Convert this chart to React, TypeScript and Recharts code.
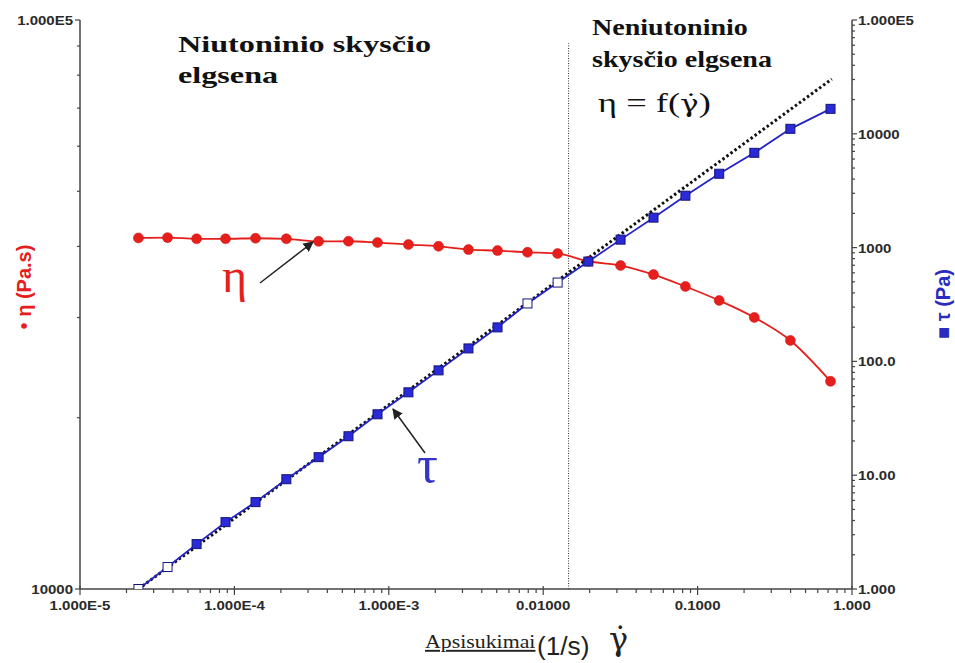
import React from "react";
import { LineChart, Line, XAxis, YAxis, ReferenceLine } from "recharts";

// shear rate (1/s)
const shearRates = [
  2.39e-5, 3.69e-5, 5.69e-5, 8.76e-5, 1.37e-4, 2.17e-4, 3.51e-4, 5.48e-4, 8.45e-4, 1.34e-3, 2.1e-3, 3.28e-3,
  5.06e-3, 7.91e-3, 0.0124, 0.0196, 0.0317, 0.0518, 0.0834, 0.138, 0.233, 0.399, 0.726,
];
// viscosity eta (Pa.s), left axis
const viscosity = [
  41400, 41450, 41250, 41250, 41350, 41250, 40830, 40850, 40630, 40300, 40020, 39490, 39330, 39060, 38860, 37670,
  37020, 35690, 34010, 32140, 30010, 27340, 23170,
];
// shear stress tau (Pa), right axis
const stress = [
  1.0, 1.56, 2.48, 3.87, 5.8, 9.22, 14.4, 22.0, 34.3, 53.5, 83.4, 130, 199, 323, 493, 754, 1175, 1833, 2858, 4457,
  6808, 11060, 16570,
];
const hollowStress = [0, 1, 13, 14];

// newtonian extrapolation (dotted)
const newtonianRates = [2.39e-5, 0.74];
const newtonianStress = [1.0, 30300];
const dividerRate = 0.0146;

const xMajor = [1e-5, 1e-4, 1e-3, 0.01, 0.1, 1];
const xMajorLabels = ["1.000E-5", "1.000E-4", "1.000E-3", "0.01000", "0.1000", "1.000"];
const leftMajor = [10000, 100000];
const leftMajorLabels = ["10000", "1.000E5"];
const rightMajor = [1, 10, 100, 1000, 10000, 100000];
const rightMajorLabels = ["1.000", "10.00", "100.0", "1000", "10000", "1.000E5"];

function minorTicks(fromExp: number, toExp: number) {
  const out: number[] = [];
  for (let e = fromExp; e < toExp; e++) {
    for (let m = 2; m <= 9; m++) out.push(m * Math.pow(10, e));
  }
  return out;
}

const xTicks = [...xMajor, ...minorTicks(-5, 0)].sort((a, b) => a - b);
const leftTicks = [...leftMajor, ...minorTicks(4, 5)].sort((a, b) => a - b);
const rightTicks = [...rightMajor, ...minorTicks(0, 5)].sort((a, b) => a - b);

const viscosityData = shearRates.map((x, i) => ({ x, y: viscosity[i] }));
const stressData = shearRates.map((x, i) => ({ x, y: stress[i] }));
const newtonianData = newtonianRates.map((x, i) => ({ x, y: newtonianStress[i] }));

const AXIS = "#444";
const RED = "#e5201c";
const BLUE = "#2424c4";
const SANS = "'Liberation Sans', Arial, sans-serif";
const SERIF = "'Liberation Serif', 'Times New Roman', serif";
const tickText = { fontFamily: SANS, fontWeight: 700, fontSize: 12, fill: "#2a2a2a" };

function XTick(props: any) {
  const { x, y, payload } = props;
  const i = xMajor.indexOf(payload.value);
  const major = i >= 0;
  return (
    <g>
      <line x1={x} x2={x} y1={y - (major ? 3 : 0)} y2={y + (major ? 6 : 4)} stroke={AXIS} strokeWidth={1.2} />
      {major && (
        <text transform={`translate(${x},${y + 17}) scale(1.25,1)`} textAnchor="middle" dominantBaseline="central" {...tickText}>
          {xMajorLabels[i]}
        </text>
      )}
    </g>
  );
}

function LeftTick(props: any) {
  const { x, y, payload } = props;
  const i = leftMajor.indexOf(payload.value);
  const major = i >= 0;
  return (
    <g>
      <line x1={x - (major ? 5 : 3)} x2={x} y1={y} y2={y} stroke={AXIS} strokeWidth={1.2} />
      {major && (
        <text transform={`translate(${x - 7},${y + 1}) scale(1.25,1)`} textAnchor="end" dominantBaseline="central" {...tickText}>
          {leftMajorLabels[i]}
        </text>
      )}
    </g>
  );
}

function RightTick(props: any) {
  const { x, y, payload } = props;
  const i = rightMajor.indexOf(payload.value);
  const major = i >= 0;
  return (
    <g>
      <line x1={x} x2={x + (major ? 5 : 3)} y1={y} y2={y} stroke={AXIS} strokeWidth={1.2} />
      {major && (
        <text transform={`translate(${x + 6},${y + 1}) scale(1.25,1)`} textAnchor="start" dominantBaseline="central" {...tickText}>
          {rightMajorLabels[i]}
        </text>
      )}
    </g>
  );
}

export default function App() {
  return (
    <div style={{ position: "absolute", left: 0, top: 0, width: 955, height: 663, background: "#fff" }}>
      <LineChart width={955} height={663} margin={{ top: 20, right: 0, left: 0, bottom: 44 }}>
        <XAxis
          dataKey="x"
          type="number"
          scale="log"
          domain={[1e-5, 1]}
          ticks={xTicks}
          interval={0}
          height={30}
          allowDataOverflow
          axisLine={{ stroke: AXIS, strokeWidth: 1.5 }}
          tickLine={false}
          tickSize={0}
          tickMargin={0}
          tick={XTick}
        />
        <YAxis
          yAxisId="left"
          type="number"
          scale="log"
          domain={[10000, 100000]}
          ticks={leftTicks}
          interval={0}
          width={80}
          allowDataOverflow
          axisLine={{ stroke: AXIS, strokeWidth: 1.5 }}
          tickLine={false}
          tickSize={0}
          tickMargin={0}
          tick={LeftTick}
        />
        <YAxis
          yAxisId="right"
          orientation="right"
          type="number"
          scale="log"
          domain={[1, 100000]}
          ticks={rightTicks}
          interval={0}
          width={103}
          allowDataOverflow
          axisLine={{ stroke: AXIS, strokeWidth: 1.5 }}
          tickLine={false}
          tickSize={0}
          tickMargin={0}
          tick={RightTick}
        />
        <ReferenceLine
          yAxisId="left"
          segment={[
            { x: dividerRate, y: 10000 },
            { x: dividerRate, y: 91000 },
          ]}
          stroke="#333"
          strokeDasharray="1 1.5"
        />
        <Line
          yAxisId="left"
          data={viscosityData}
          dataKey="y"
          type="monotone"
          stroke={RED}
          strokeWidth={1.8}
          isAnimationActive={false}
          dot={(p: any) => <circle key={`e${p.index}`} cx={p.cx} cy={p.cy} r={5} fill={RED} stroke="#d01010" strokeWidth={0.5} />}
        />
        <Line
          yAxisId="right"
          data={newtonianData}
          dataKey="y"
          type="linear"
          stroke="#111"
          strokeWidth={3}
          strokeDasharray="2.5 2.5"
          dot={false}
          isAnimationActive={false}
        />
        <Line
          yAxisId="right"
          data={stressData}
          dataKey="y"
          type="linear"
          stroke={BLUE}
          strokeWidth={1.8}
          isAnimationActive={false}
          dot={(p: any) => {
            const hollow = hollowStress.includes(p.index);
            return (
              <rect
                key={`t${p.index}`}
                x={p.cx - 4.5}
                y={p.cy - 4.5}
                width={9}
                height={9}
                fill={hollow ? "#fff" : "#2a2ad8"}
                stroke="#14147a"
                strokeWidth={1}
              />
            );
          }}
        />
      </LineChart>

      <svg width={955} height={663} style={{ position: "absolute", left: 0, top: 0, pointerEvents: "none" }}>
        <defs>
          <marker id="arrow" viewBox="0 0 10 10" refX="9" refY="5" markerWidth="7" markerHeight="7" orient="auto">
            <path d="M0,0 L10,5 L0,10 z" fill="#222" />
          </marker>
        </defs>

        <g fontFamily={SERIF} fontWeight={700} fontSize={23} fill="#111">
          <text transform="translate(178,52) scale(1.4,1)">Niutoninio skysčio</text>
          <text transform="translate(178,83) scale(1.4,1)">elgsena</text>
          <text transform="translate(592,35) scale(1.22,1)">Neniutoninio</text>
          <text transform="translate(592,67) scale(1.22,1)">skysčio elgsena</text>
        </g>
        <text transform="translate(598,112) scale(1.3,1)" fontFamily={SERIF} fontSize={28} fill="#111">
          {"η = f("}
          <tspan fontFamily="'DejaVu Serif', serif" fontSize={24}>{"γ\u0307"}</tspan>
          {")"}
        </text>

        <text x={222} y={292} fontFamily={SERIF} fontSize={48} fill={RED}>
          η
        </text>
        <text x={417} y={482} fontFamily={SERIF} fontSize={52} fill="#3434c8">
          τ
        </text>
        <line x1={260} y1={283} x2={313} y2={242} stroke="#222" strokeWidth={1.5} markerEnd="url(#arrow)" />
        <line x1={425} y1={453} x2={393} y2={409} stroke="#222" strokeWidth={1.5} markerEnd="url(#arrow)" />

        <text transform="translate(425,648) scale(1.15,1)" fontFamily={SERIF} fontSize={19} fill="#222" textDecoration="underline">
          Apsisukimai
        </text>
        <text transform="translate(537,655) scale(1.05,1)" fontFamily={SANS} fontSize={25} fill="#222">
          (1/s)
        </text>
        <text x={609} y={650} fontFamily="'DejaVu Serif', serif" fontSize={32} fill="#222">
          {"γ\u0307"}
        </text>

        <text
          transform="translate(24,287) rotate(-90)"
          textAnchor="middle"
          dominantBaseline="central"
          fontFamily={SANS}
          fontWeight={700}
          fontSize={20}
          fill={RED}
        >
          • η (Pa.s)
        </text>
        <text
          transform="translate(943,304) rotate(-90)"
          textAnchor="middle"
          dominantBaseline="central"
          fontFamily={SANS}
          fontWeight={700}
          fontSize={20}
          fill="#2b2bc0"
        >
          ■ τ (Pa)
        </text>
      </svg>
    </div>
  );
}
